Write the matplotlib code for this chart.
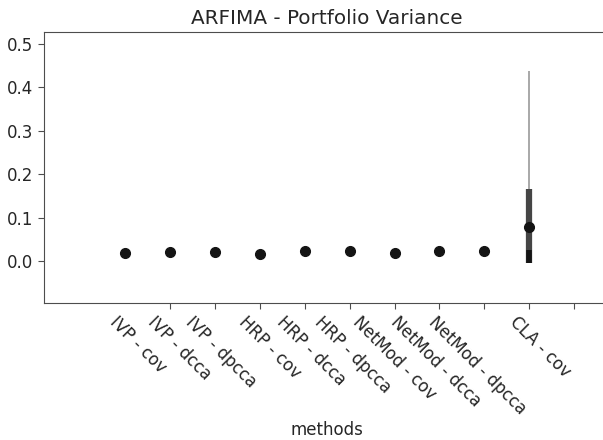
import matplotlib.pyplot as plt
import numpy as np

methods = ["IVP - cov", "IVP - dcca", "IVP - dpcca", "HRP - cov", "HRP - dcca",
           "HRP - dpcca", "NetMod - cov", "NetMod - dcca", "NetMod - dpcca", "CLA - cov"]
means = [0.019, 0.021, 0.021, 0.017, 0.025, 0.023, 0.019, 0.025, 0.025, 0.080]
# thin whisker range and thick box range per method
whisk_lo = [0.019, 0.021, 0.021, 0.017, 0.025, 0.023, 0.019, 0.020, 0.025, -0.004]
whisk_hi = [0.019, 0.021, 0.021, 0.017, 0.025, 0.023, 0.019, 0.036, 0.025, 0.437]
box_lo = [0.019, 0.021, 0.021, 0.017, 0.025, 0.023, 0.019, 0.025, 0.025, -0.004]
box_hi = [0.019, 0.021, 0.021, 0.017, 0.025, 0.023, 0.019, 0.025, 0.025, 0.166]
core_lo = [0.019, 0.021, 0.021, 0.017, 0.025, 0.023, 0.019, 0.025, 0.025, -0.004]
core_hi = [0.019, 0.021, 0.021, 0.017, 0.025, 0.023, 0.019, 0.025, 0.025, 0.027]

plt.rcParams["font.size"] = 12
txt = "0.15"

fig = plt.figure(figsize=(6.03, 4.40), dpi=100)
ax = fig.add_axes([0.073, 0.311, 0.939, 0.616])

x = np.arange(len(methods))
ax.vlines(x, whisk_lo, whisk_hi, color="0.6", lw=1.2, zorder=2)
ax.vlines(x, box_lo, box_hi, color="0.27", lw=4.5, zorder=3)
ax.vlines(x, core_lo, core_hi, color="0.08", lw=4, zorder=4)
ax.plot(x, means, "o", color="0.08", ms=7, zorder=5)

ax.set_xlim(-1.8, 10.8)
ax.set_ylim(-0.096, 0.527)
ax.set_yticks([0.0, 0.1, 0.2, 0.3, 0.4, 0.5])
ax.set_xticks(x + 1)
ax.set_xticklabels(methods, rotation=-45, ha="right")
ax.tick_params(colors="0.3", labelcolor=txt, length=4)
for s in ax.spines.values():
    s.set_color("0.3")

ax.set_title("ARFIMA - Portfolio Variance", color=txt)
ax.set_xlabel("methods", color=txt, labelpad=2)

fig.savefig("out.png", dpi=100)
